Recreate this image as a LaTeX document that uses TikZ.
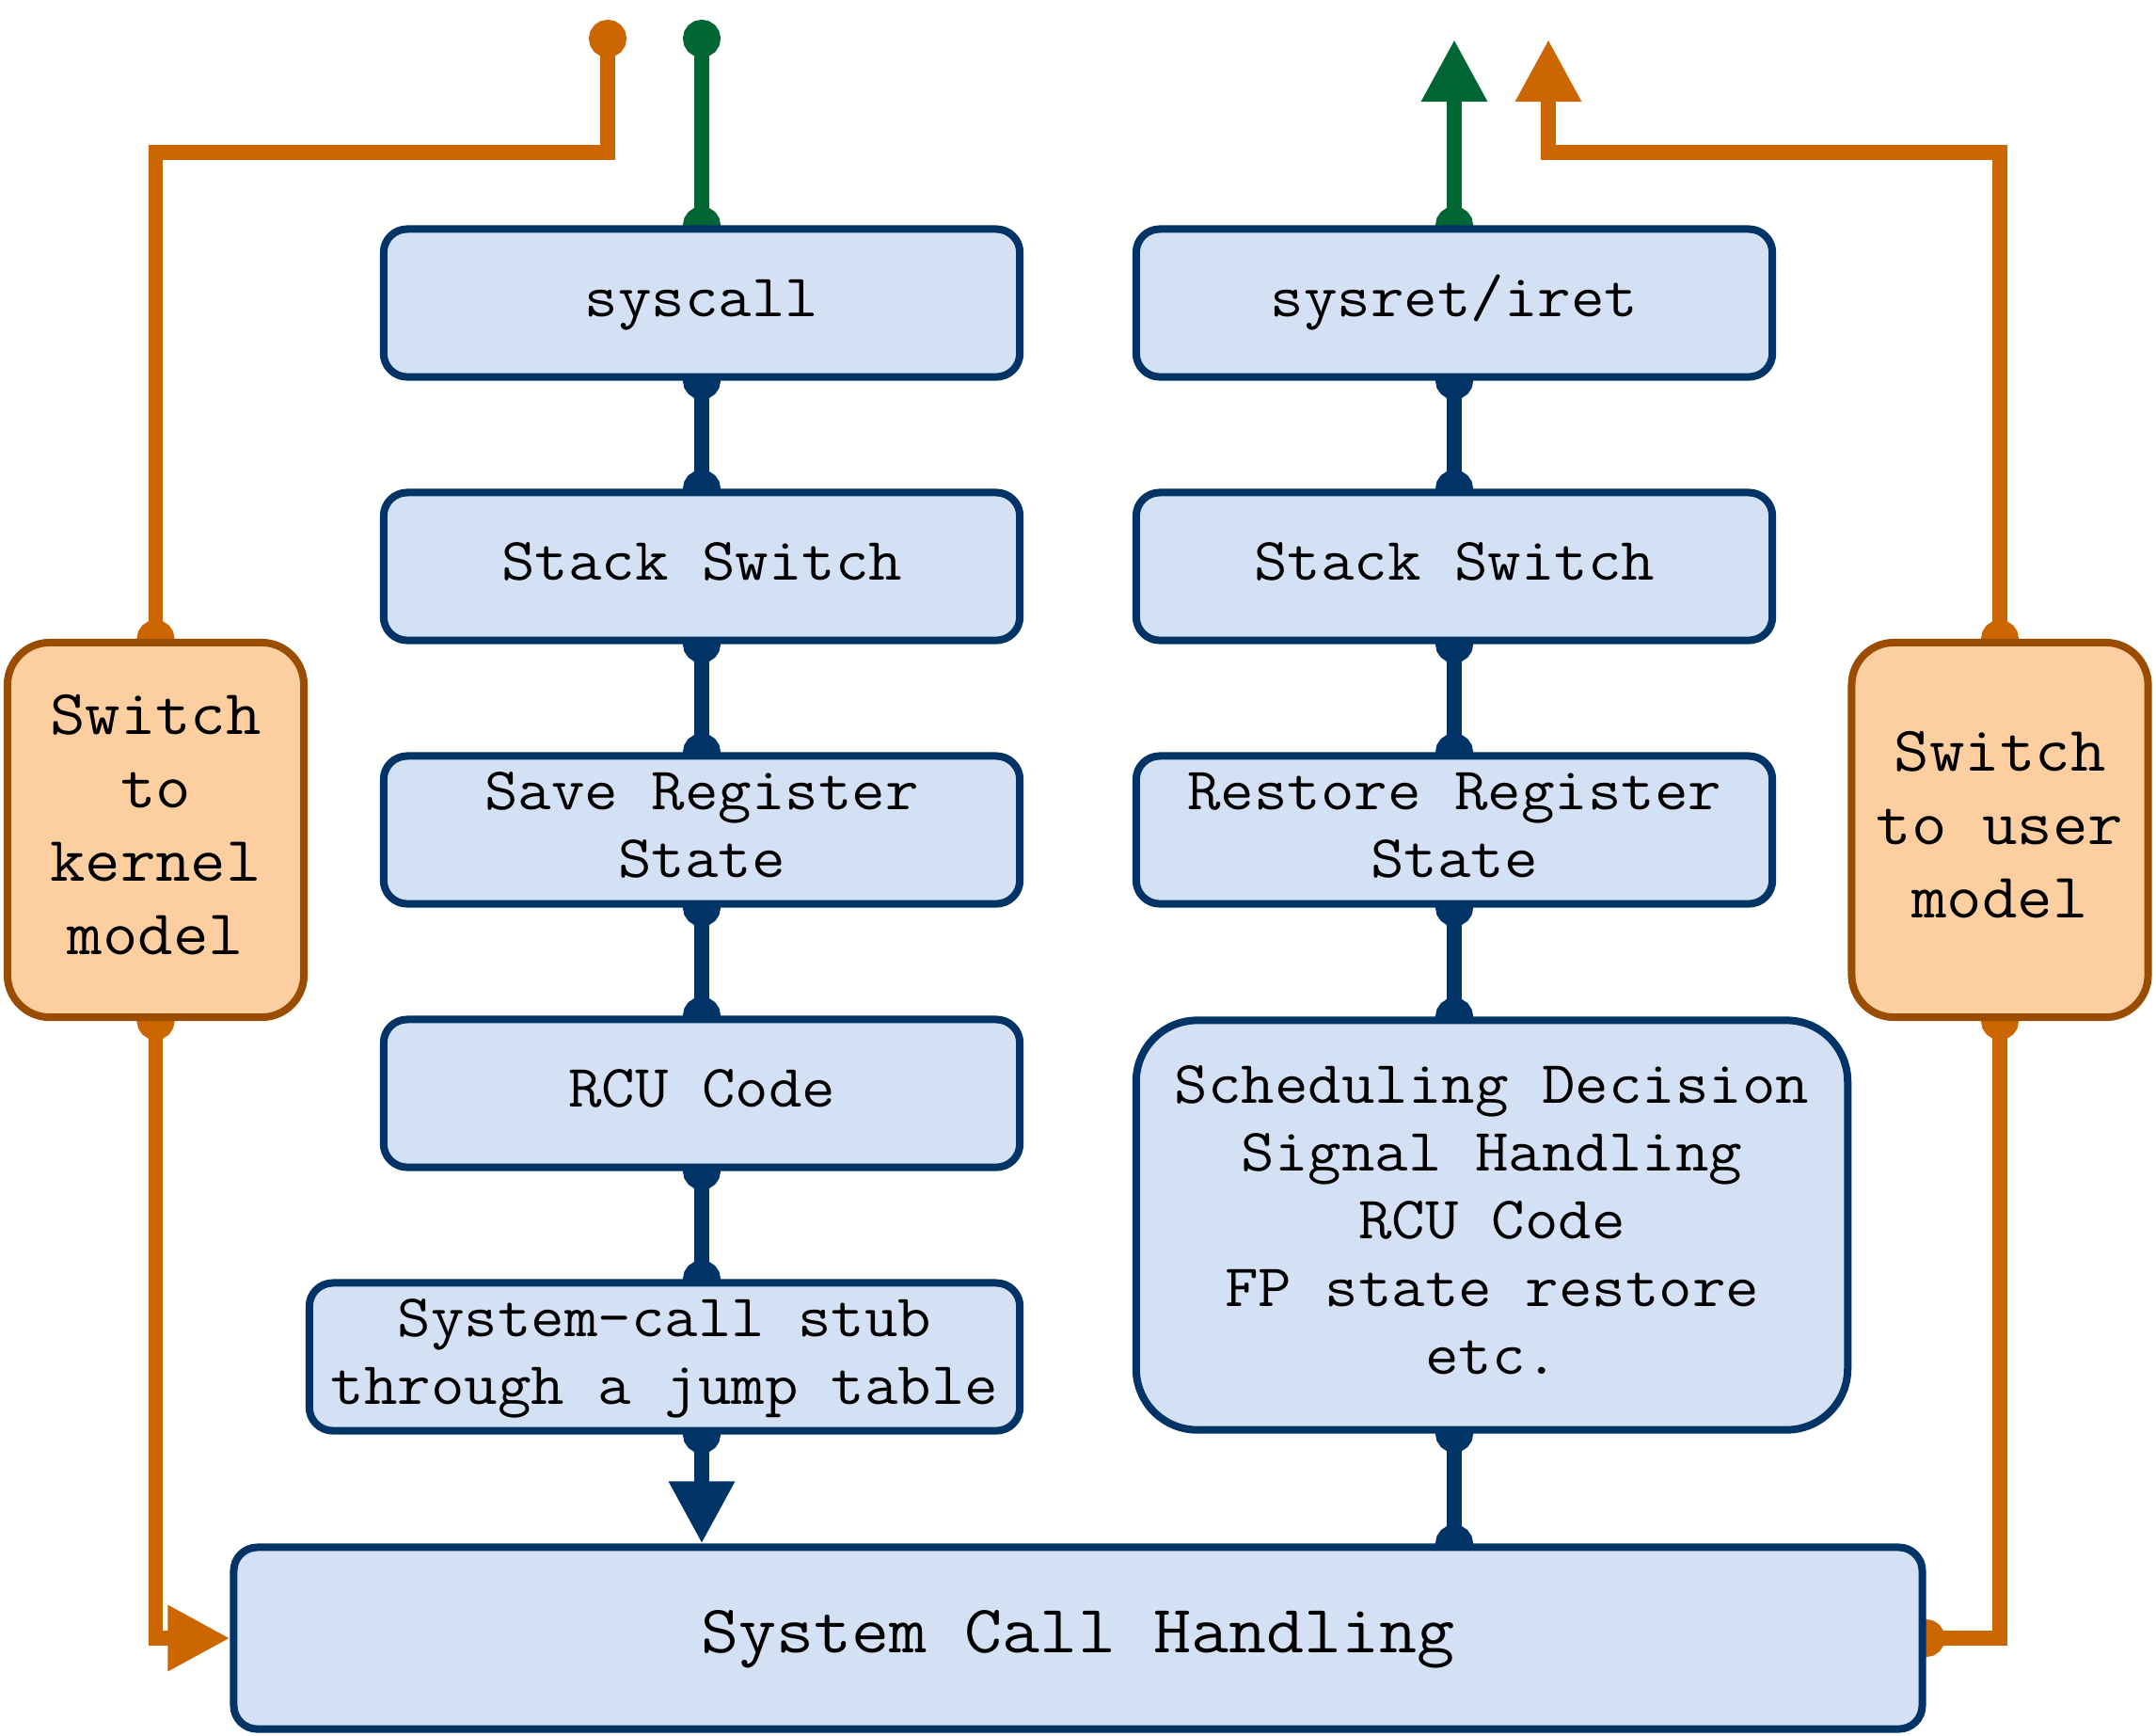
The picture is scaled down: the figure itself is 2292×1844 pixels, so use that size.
\documentclass[tikz,border=0pt]{standalone}
\usepackage{fontspec}
\usepackage{graphicx}
\usetikzlibrary{arrows.meta}
\definecolor{boxfill}{HTML}{D4E1F4}
\definecolor{boxline}{HTML}{003366}
\definecolor{orline}{HTML}{CC6600}
\definecolor{orfill}{HTML}{FDCFA0}
\definecolor{orborder}{HTML}{9A4D00}
\definecolor{grline}{HTML}{006633}
\pgfdeclarelayer{bg}
\pgfsetlayers{bg,main}
\newcommand\boxtext[1]{\scalebox{1}[0.93]{\begin{tabular}{@{}c@{}}#1\end{tabular}}}
\begin{document}
\begin{tikzpicture}[x=0.01cm,y=-0.01cm,
 bluebox/.style={draw=boxline, fill=boxfill, line width=0.08cm, rounded corners=0.25cm, inner sep=0pt,
   minimum width=6.76cm, minimum height=1.57cm, font=\ttfamily\fontsize{19.6}{22}\selectfont},
 orbox/.style={draw=orborder, fill=orfill, line width=0.08cm, rounded corners=0.45cm, inner sep=0pt,
   minimum width=3.15cm, minimum height=3.98cm, font=\ttfamily\fontsize{20.7}{23.8}\selectfont},
 conn/.style={line width=0.155cm},
 dotdot/.style={{Circle[length=0.4cm]}-{Circle[length=0.4cm]}, shorten <=-0.2cm, shorten >=-0.2cm},
 dottri/.style={{Circle[length=0.4cm]}-{Triangle[length=0.66cm,width=0.66cm]}, shorten <=-0.2cm},
]
\useasboundingbox (0,0) rectangle (2292,1844);

% left column
\node[bluebox] (sys)  at (746,322)  {\boxtext{syscall}};
\node[bluebox] (ss1)  at (746,602)  {\boxtext{Stack Switch}};
\node[bluebox] (save) at (746,882)  {\boxtext{Save Register\\State}};
\node[bluebox] (rcu)  at (746,1162) {\boxtext{RCU Code}};
\node[bluebox, minimum width=7.55cm] (stub) at (706.5,1442) {\boxtext{System-call stub\\through a jump table}};

% right column
\node[bluebox] (sr)   at (1546,322) {\boxtext{sysret/iret}};
\node[bluebox] (ss2)  at (1546,602) {\boxtext{Stack Switch}};
\node[bluebox] (rest) at (1546,882) {\boxtext{Restore Register\\State}};
\node[bluebox, rounded corners=0.65cm, minimum width=7.56cm, minimum height=4.35cm] (sched) at (1586,1302)
  {\boxtext{Scheduling Decision\\Signal Handling\\RCU Code\\FP state restore\\etc.}};

% bottom
\node[bluebox, minimum width=17.94cm, minimum height=1.93cm, font=\ttfamily\fontsize{22.1}{24}\selectfont] (sch) at (1146,1741)
  {\boxtext{System Call Handling}};

% side boxes
\node[orbox] (kern) at (165.5,882) {\boxtext{Switch\\to\\kernel\\model}};
\node[orbox] (user) at (2126,882)  {\boxtext{Switch\\to user\\model}};

\coordinate (gtop)   at (746,41);
\coordinate (gtip)   at (1546,42);
\coordinate (otopL)  at (646,41);
\coordinate (oL)     at (646,162);
\coordinate (oR)     at (1646,162);
\coordinate (otipR)  at (1646,42);

\begin{pgfonlayer}{bg}
  % blue chain left
  \draw[conn, boxline, dotdot] (sys.south) -- (ss1.north);
  \draw[conn, boxline, dotdot] (ss1.south) -- (save.north);
  \draw[conn, boxline, dotdot] (save.south) -- (rcu.north);
  \draw[conn, boxline, dotdot] (rcu.south) -- (sys.south |- stub.north);
  \draw[conn, boxline, dottri] (sys.south |- stub.south) -- (sys.south |- sch.north);
  % blue chain right
  \draw[conn, boxline, dotdot] (sr.south) -- (ss2.north);
  \draw[conn, boxline, dotdot] (ss2.south) -- (rest.north);
  \draw[conn, boxline, dotdot] (rest.south) -- (rest.south |- sched.north);
  \draw[conn, boxline, dotdot] (rest.south |- sched.south) -- (rest.south |- sch.north);
  % green
  \draw[conn, grline, dotdot] (sys.north) -- (gtop);
  \draw[conn, grline, dottri] (sr.north) -- (gtip);
  % orange
  \draw[conn, orline, dotdot] (kern.north) |- (oL) -- (otopL);
  \draw[conn, orline, dottri] (kern.south) |- (sch.west);
  \draw[conn, orline, dotdot] (sch.east) -| (user.south);
  \draw[conn, orline, dottri] (user.north) |- (oR) -- (otipR);
\end{pgfonlayer}
\end{tikzpicture}
\end{document}
